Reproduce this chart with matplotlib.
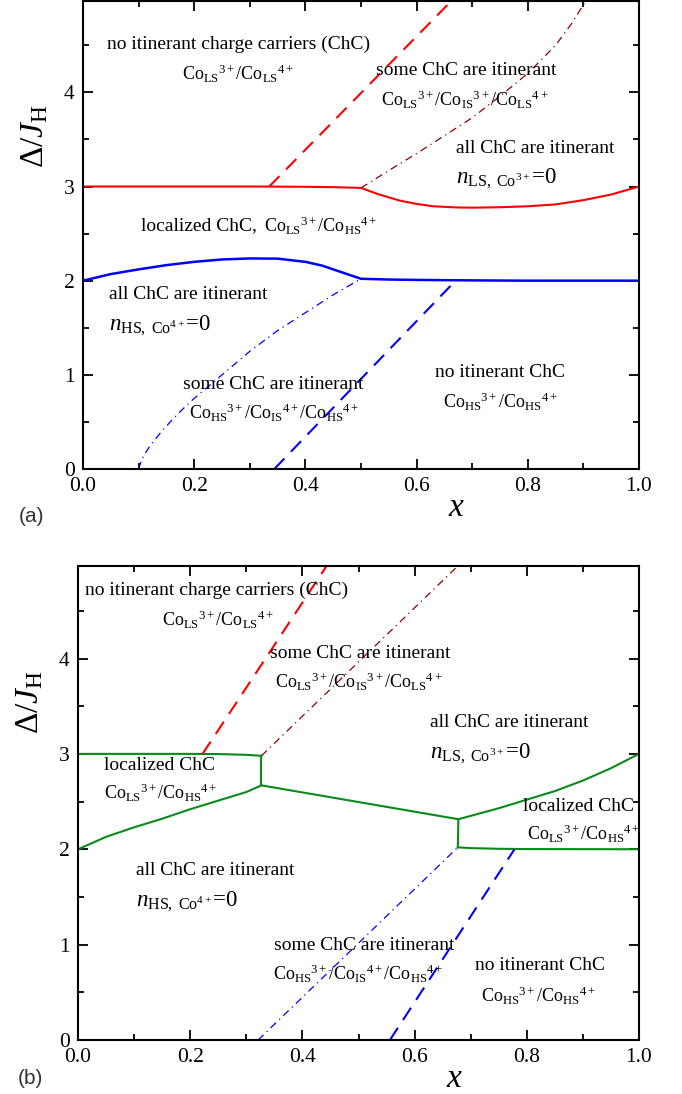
import matplotlib
matplotlib.use("Agg")
import matplotlib.pyplot as plt
from matplotlib.ticker import MultipleLocator, FormatStrFormatter

plt.rcParams['font.family'] = ['Liberation Serif', 'DejaVu Serif']
plt.rcParams['mathtext.fontset'] = 'custom'
plt.rcParams['mathtext.rm'] = 'Liberation Serif'
plt.rcParams['mathtext.it'] = 'Liberation Serif:italic'
plt.rcParams['mathtext.bf'] = 'Liberation Serif:bold'

# ---------------- Panel (a) data ----------------
a_red_solid_x = [0.0, 0.1, 0.2, 0.3, 0.4, 0.45, 0.5, 0.53, 0.57, 0.6, 0.63, 0.67, 0.7, 0.75, 0.8, 0.85, 0.9, 0.95, 1.0]
a_red_solid_y = [3.0, 3.0, 3.0, 3.0, 2.997, 2.993, 2.985, 2.92, 2.85, 2.815, 2.79, 2.778, 2.775, 2.78, 2.79, 2.81, 2.855, 2.915, 3.0]

a_red_dash_x = [0.335, 0.664]
a_red_dash_y = [3.0, 4.98]

a_dred_dashdot_x = [0.5, 0.55, 0.6, 0.65, 0.7, 0.75, 0.8, 0.85, 0.88, 0.905]
a_dred_dashdot_y = [2.985, 3.17, 3.35, 3.54, 3.73, 3.96, 4.2, 4.5, 4.74, 4.98]

a_blue_solid_x = [0.0, 0.05, 0.1, 0.15, 0.2, 0.25, 0.3, 0.35, 0.4, 0.43, 0.46, 0.48, 0.5, 0.55, 0.6, 0.7, 0.8, 1.0]
a_blue_solid_y = [2.0, 2.07, 2.12, 2.165, 2.2, 2.225, 2.236, 2.234, 2.2, 2.16, 2.1, 2.06, 2.02, 2.012, 2.008, 2.003, 2.0, 2.0]

a_blue_dashdot_x = [0.1, 0.105, 0.11, 0.12, 0.14, 0.16, 0.18, 0.2, 0.25, 0.3, 0.35, 0.4, 0.45, 0.5]
a_blue_dashdot_y = [0.0, 0.09, 0.15, 0.24, 0.39, 0.52, 0.64, 0.75, 1.0, 1.25, 1.47, 1.66, 1.85, 2.02]

a_blue_dash_x = [0.344, 0.670]
a_blue_dash_y = [0.0, 2.0]

# ---------------- Panel (b) data ----------------
b_green_topleft_x = [0.0, 0.1, 0.2, 0.25, 0.3, 0.327]
b_green_topleft_y = [3.0, 3.0, 3.0, 2.998, 2.99, 2.98]

b_green_vert1_x = [0.327, 0.327]
b_green_vert1_y = [2.98, 2.67]

b_green_lowleft_x = [0.0, 0.05, 0.1, 0.15, 0.2, 0.25, 0.3, 0.327]
b_green_lowleft_y = [2.0, 2.13, 2.23, 2.32, 2.42, 2.51, 2.60, 2.67]

b_green_mid_x = [0.327, 0.678]
b_green_mid_y = [2.67, 2.315]

b_green_vert2_x = [0.678, 0.677]
b_green_vert2_y = [2.315, 2.02]

b_green_rightlow_x = [0.677, 0.7, 0.75, 0.8, 1.0]
b_green_rightlow_y = [2.02, 2.012, 2.005, 2.002, 2.0]

b_green_rightup_x = [0.678, 0.75, 0.8, 0.85, 0.9, 0.95, 1.0]
b_green_rightup_y = [2.315, 2.43, 2.52, 2.61, 2.72, 2.85, 3.0]

b_red_dash_x = [0.222, 0.443]
b_red_dash_y = [3.0, 4.97]

b_dred_dashdot_x = [0.327, 0.677]
b_dred_dashdot_y = [2.98, 4.97]

b_blue_dashdot_x = [0.321, 0.677]
b_blue_dashdot_y = [0.0, 2.02]

b_blue_dash_x = [0.556, 0.778]
b_blue_dash_y = [0.0, 2.0]

x_ticks = [0.0, 0.2, 0.4, 0.6, 0.8, 1.0]
y_ticks = [0, 1, 2, 3, 4]

RED = '#ff0000'
BLUE = '#0000ff'
GREEN = '#0a8a1a'
DRED = '#8b0000'

LS_LS = r'Co$_{\rm LS}{}^{3+}$/Co$_{\rm LS}{}^{4+}$'
LS_HS = r'Co$_{\rm LS}{}^{3+}$/Co$_{\rm HS}{}^{4+}$'
HS_HS = r'Co$_{\rm HS}{}^{3+}$/Co$_{\rm HS}{}^{4+}$'
LS_IS_LS = r'Co$_{\rm LS}{}^{3+}$/Co$_{\rm IS}{}^{3+}$/Co$_{\rm LS}{}^{4+}$'
HS_IS_HS = r'Co$_{\rm HS}{}^{3+}$/Co$_{\rm IS}{}^{4+}$/Co$_{\rm HS}{}^{4+}$'
N_LS = r'$n_{\rm LS,\ Co^{3+}}$=0'
N_HS = r'$n_{\rm HS,\ Co^{4+}}$=0'

FS = 14
FSC = 13
FSN = 16.5

fig = plt.figure(figsize=(6.82, 10.94), dpi=100)
axa = fig.add_axes([83/682, (1094-469)/1094, 556/682, 468/1094])
axb = fig.add_axes([78/682, (1094-1040)/1094, 561/682, 474/1094])


def style(ax):
    ax.set_xlim(0, 1.0)
    ax.set_ylim(0, 4.97)
    ax.set_xticks(x_ticks)
    ax.set_yticks(y_ticks)
    ax.xaxis.set_minor_locator(MultipleLocator(0.1))
    ax.yaxis.set_minor_locator(MultipleLocator(0.5))
    ax.xaxis.set_major_formatter(FormatStrFormatter('%.1f'))
    ax.yaxis.set_major_formatter(FormatStrFormatter('%d'))
    ax.tick_params(which='both', direction='in', top=True, right=True, width=1.3, labelsize=15.5, pad=6)
    ax.tick_params(which='major', length=7)
    ax.tick_params(which='minor', length=4.5)
    for s in ax.spines.values():
        s.set_linewidth(1.5)
    ax.text(-0.086, 0.712, 'Δ/' + r'$J_{\rm H}$', transform=ax.transAxes, rotation=90,
            ha='center', va='center', fontsize=24)


style(axa)
style(axb)

dd = (0, (6, 3.5, 1, 3.5))
dsh = (0, (7, 4.5))

# Panel (a)
axa.plot(a_red_solid_x, a_red_solid_y, color=RED, lw=1.5)
axa.plot(a_red_dash_x, a_red_dash_y, color=RED, lw=1.5, ls=dsh)
axa.plot(a_dred_dashdot_x, a_dred_dashdot_y, color=DRED, lw=0.9, ls=dd)
axa.plot(a_blue_solid_x, a_blue_solid_y, color=BLUE, lw=1.8)
axa.plot(a_blue_dashdot_x, a_blue_dashdot_y, color=BLUE, lw=0.9, ls=dd)
axa.plot(a_blue_dash_x, a_blue_dash_y, color=BLUE, lw=1.5, ls=dsh)

axa.text(0.043, 4.51, 'no itinerant charge carriers (ChC)', fontsize=FS, va='center')
axa.text(0.278, 4.19, LS_LS, fontsize=FSC, va='center', ha='center')
axa.text(0.69, 4.23, 'some ChC are itinerant', fontsize=FS, va='center', ha='center')
axa.text(0.686, 3.92, LS_IS_LS, fontsize=FSC, va='center', ha='center')
axa.text(0.67, 3.40, 'all ChC are itinerant', fontsize=FS, va='center')
axa.text(0.67, 3.08, N_LS, fontsize=FSN, va='center')
t_loc = axa.text(0.104, 2.58, 'localized ChC,', fontsize=FS, va='center')
axa.annotate(LS_HS, xy=(1, 0.5), xycoords=t_loc, xytext=(5, 0), textcoords='offset points',
             fontsize=FSC, va='center', ha='left')
axa.text(0.047, 1.85, 'all ChC are itinerant', fontsize=FS, va='center')
axa.text(0.047, 1.52, N_HS, fontsize=FSN, va='center')
axa.text(0.343, 0.90, 'some ChC are itinerant', fontsize=FS, va='center', ha='center')
axa.text(0.343, 0.59, HS_IS_HS, fontsize=FSC, va='center', ha='center')
axa.text(0.75, 1.03, 'no itinerant ChC', fontsize=FS, va='center', ha='center')
axa.text(0.75, 0.71, HS_HS, fontsize=FSC, va='center', ha='center')

axa.text(0.671, -0.083, r'$x$', transform=axa.transAxes, fontsize=24, ha='center', va='center')
fig.text(32/682, 1 - 517/1094, '(a)', fontsize=15, ha='center', va='center',
         family='Liberation Sans', color='#333333')

# Panel (b)
for xs, ys in [(b_green_topleft_x, b_green_topleft_y), (b_green_vert1_x, b_green_vert1_y),
               (b_green_lowleft_x, b_green_lowleft_y), (b_green_mid_x, b_green_mid_y),
               (b_green_vert2_x, b_green_vert2_y), (b_green_rightlow_x, b_green_rightlow_y),
               (b_green_rightup_x, b_green_rightup_y)]:
    axb.plot(xs, ys, color=GREEN, lw=1.5)
axb.plot(b_red_dash_x, b_red_dash_y, color=RED, lw=1.5, ls=dsh)
axb.plot(b_dred_dashdot_x, b_dred_dashdot_y, color=DRED, lw=0.9, ls=dd)
axb.plot(b_blue_dashdot_x, b_blue_dashdot_y, color=BLUE, lw=0.9, ls=dd)
axb.plot(b_blue_dash_x, b_blue_dash_y, color=BLUE, lw=1.5, ls=dsh)

axb.text(0.013, 4.71, 'no itinerant charge carriers (ChC)', fontsize=FS, va='center')
axb.text(0.25, 4.40, LS_LS, fontsize=FSC, va='center', ha='center')
axb.text(0.342, 4.05, 'some ChC are itinerant', fontsize=FS, va='center')
axb.text(0.50, 3.75, LS_IS_LS, fontsize=FSC, va='center', ha='center')
axb.text(0.627, 3.33, 'all ChC are itinerant', fontsize=FS, va='center')
axb.text(0.627, 3.0, N_LS, fontsize=FSN, va='center')
axb.text(0.046, 2.88, 'localized ChC', fontsize=FS, va='center')
axb.text(0.046, 2.59, LS_HS, fontsize=FSC, va='center')
axb.text(0.793, 2.45, 'localized ChC', fontsize=FS, va='center')
axb.text(0.80, 2.16, LS_HS, fontsize=FSC, va='center')
axb.text(0.104, 1.78, 'all ChC are itinerant', fontsize=FS, va='center')
axb.text(0.104, 1.45, N_HS, fontsize=FSN, va='center')
axb.text(0.35, 0.99, 'some ChC are itinerant', fontsize=FS, va='center')
axb.text(0.50, 0.69, HS_IS_HS, fontsize=FSC, va='center', ha='center')
axb.text(0.708, 0.78, 'no itinerant ChC', fontsize=FS, va='center')
axb.text(0.82, 0.46, HS_HS, fontsize=FSC, va='center', ha='center')

axb.text(0.671, -0.081, r'$x$', transform=axb.transAxes, fontsize=24, ha='center', va='center')
fig.text(30/682, 1 - 1079/1094, '(b)', fontsize=15, ha='center', va='center',
         family='Liberation Sans', color='#333333')

fig.savefig('out.png', dpi=100)
